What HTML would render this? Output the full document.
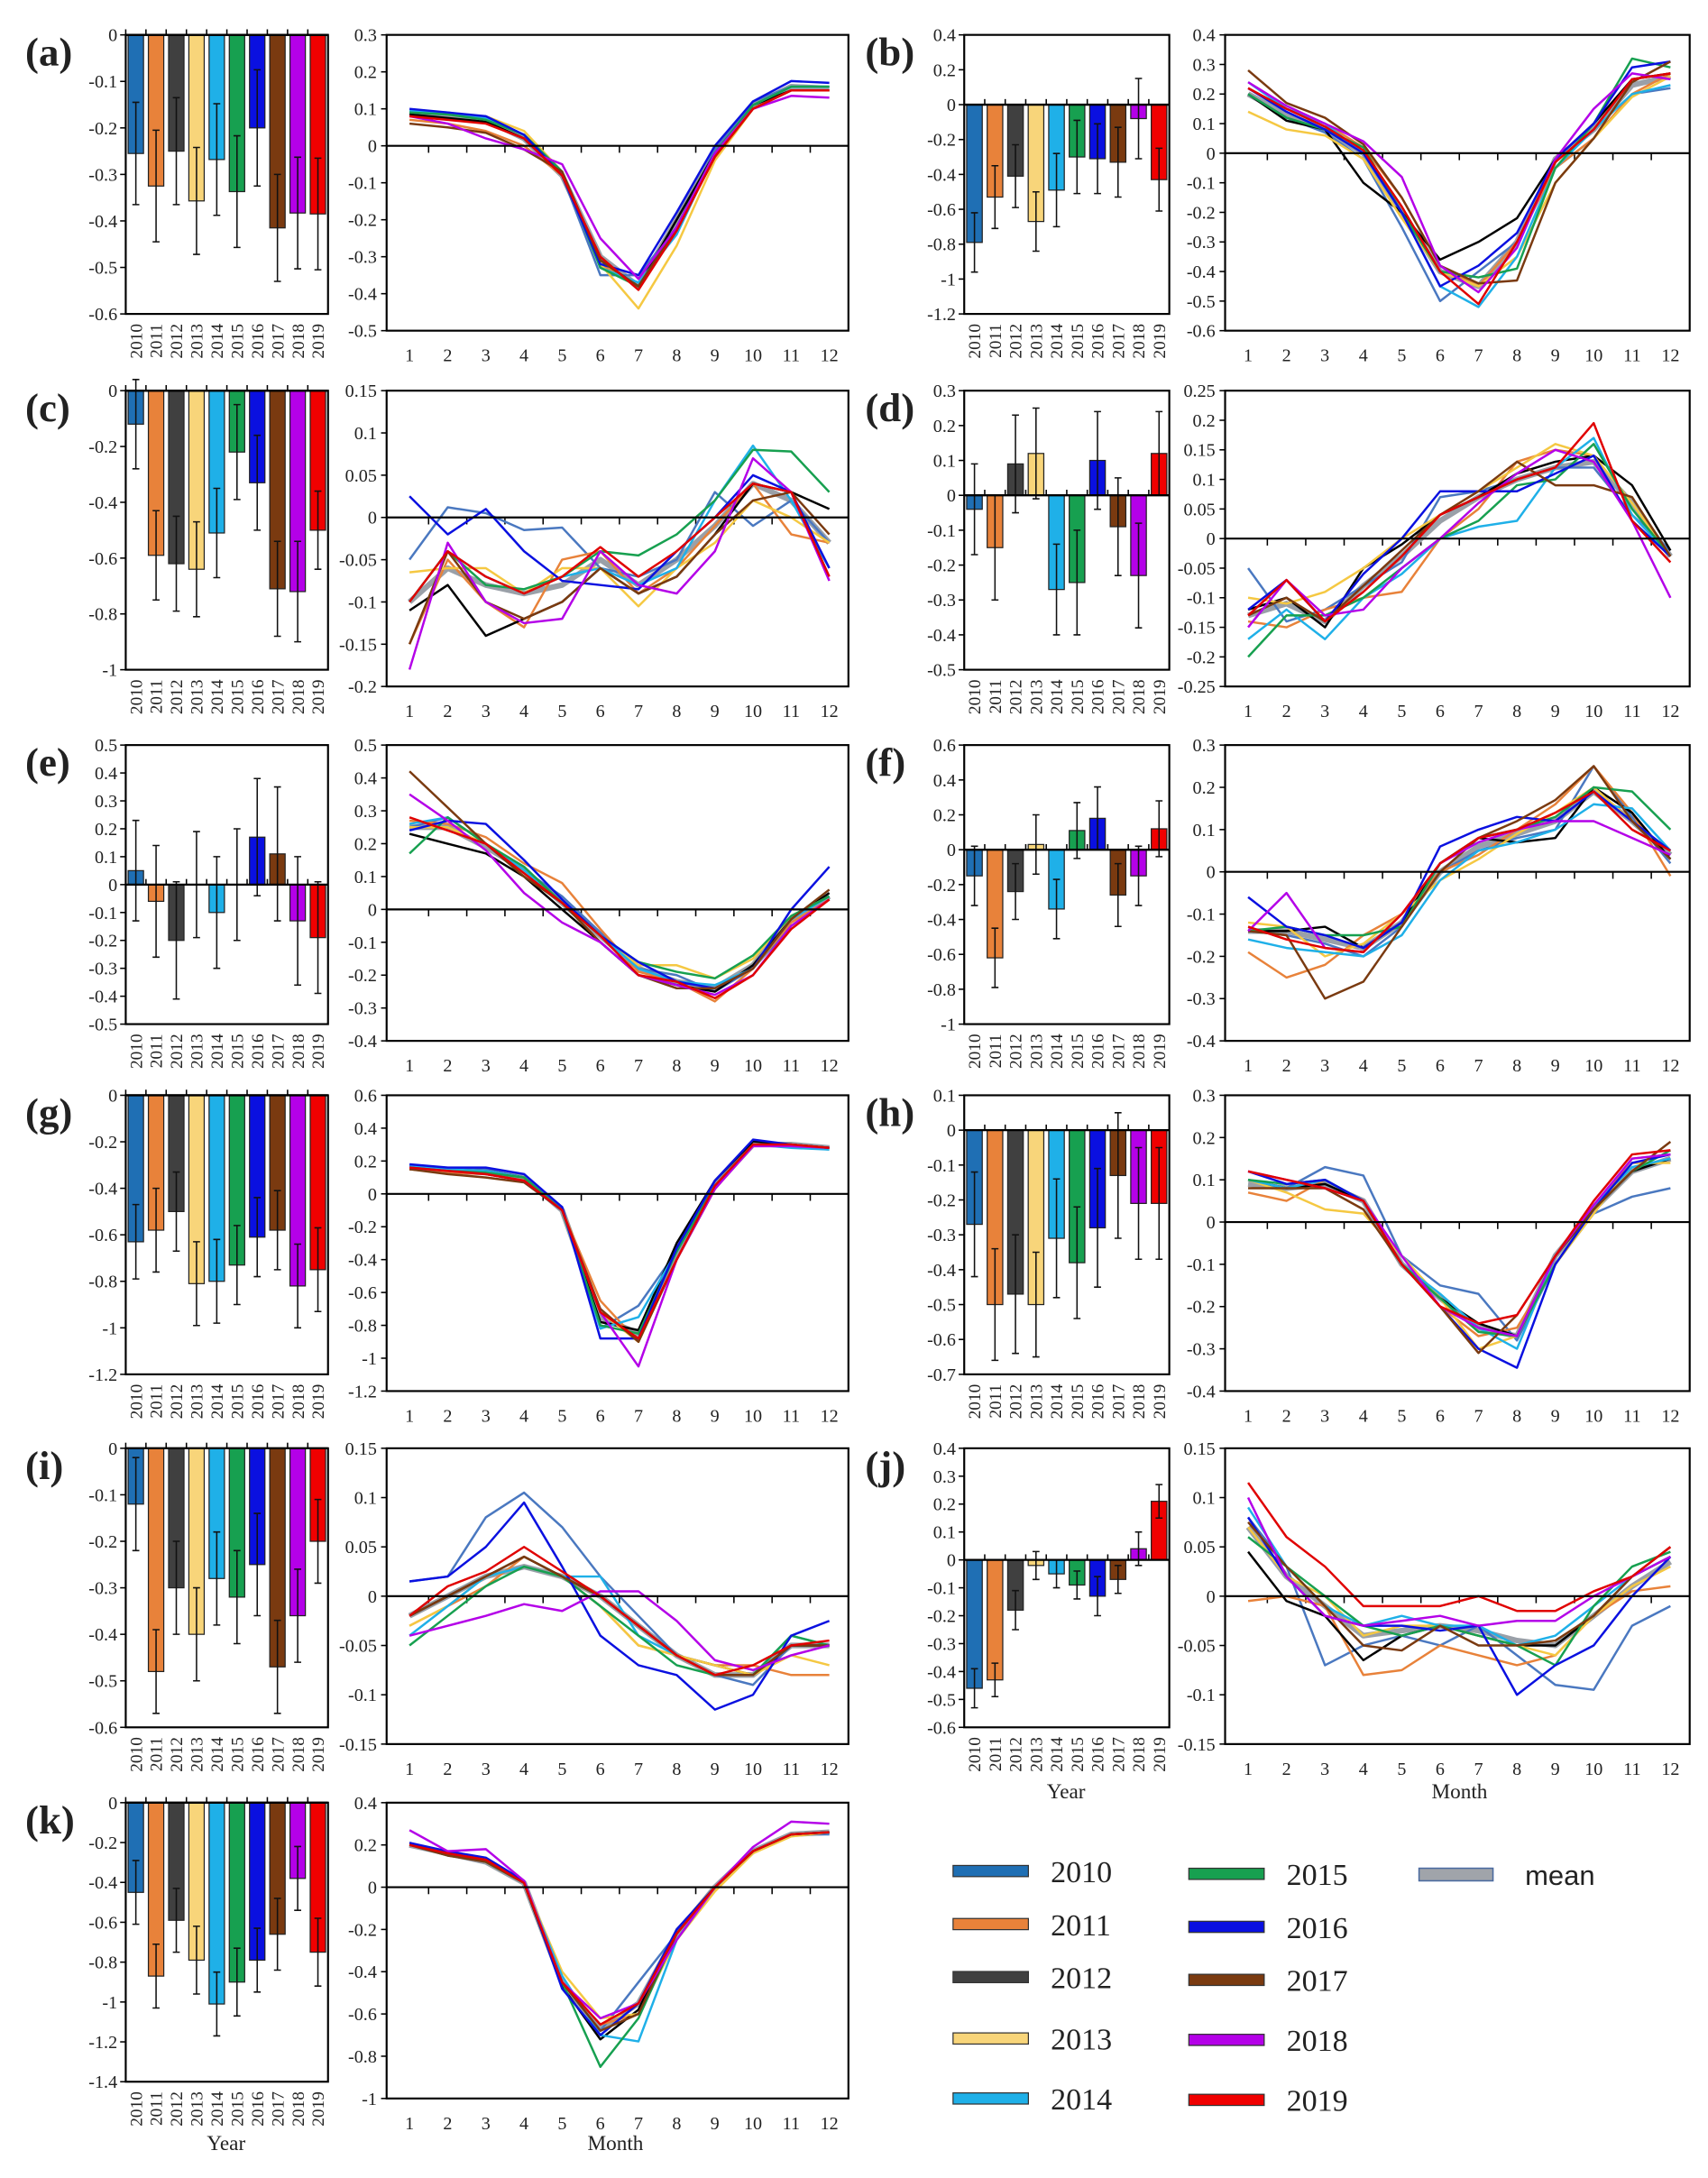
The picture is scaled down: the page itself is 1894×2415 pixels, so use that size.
<!DOCTYPE html>
<html><head><meta charset="utf-8"><style>
html,body{margin:0;padding:0;background:#fff;}
svg{display:block;}
text{font-family:"Liberation Serif",serif;fill:#222;}
</style></head><body>
<svg id="fig" xmlns="http://www.w3.org/2000/svg" width="1894" height="2415" viewBox="0 0 1224 1561"></svg>
<script>
const years=["2010","2011","2012","2013","2014","2015","2016","2017","2018","2019"];
const months=[1,2,3,4,5,6,7,8,9,10,11,12];
const panelNames=["a","b","c","d","e","f","g","h","i","j","k"];
const barColors=["#1f6fb4","#e8823a","#404040","#f8d57a","#1fb0e8","#17a050","#0a10e0","#7a3a10","#b400e8","#f00000"];
const lineColors=["#4a78c0","#e8823a","#000000","#f5c842","#1fb0e8","#17a050","#0a10e0","#7a3a10","#b400e8","#e00000"];

const barA=[-.255,-.325,-.25,-.357,-.268,-.337,-.2,-.415,-.383,-.385];
const errA=[.11,.12,.115,.115,.12,.12,.125,.115,.12,.12];
const barB=[-.79,-.53,-.41,-.67,-.49,-.3,-.31,-.33,-.08,-.43];
const errB=[.17,.18,.18,.17,.21,.21,.2,.2,.23,.18];
const barC=[-.12,-.59,-.62,-.64,-.51,-.22,-.33,-.71,-.72,-.5];
const errC=[.16,.16,.17,.17,.16,.17,.17,.17,.18,.14];
const barD=[-.04,-.15,.09,.12,-.27,-.25,.1,-.09,-.23,.12];
const errD=[.13,.15,.14,.13,.13,.15,.14,.14,.15,.12];
const barE=[.05,-.06,-.2,0,-.1,0,.17,.11,-.13,-.19];
const errE=[.18,.2,.21,.19,.2,.2,.21,.24,.23,.2];
const barF=[-.15,-.62,-.24,.03,-.34,.11,.18,-.26,-.15,.12];
const errF=[.17,.17,.16,.17,.17,.16,.18,.18,.17,.16];
const barG=[-.63,-.58,-.5,-.81,-.8,-.73,-.61,-.58,-.82,-.75];
const errG=[.16,.18,.17,.18,.18,.17,.17,.17,.18,.18];
const barH=[-.27,-.5,-.47,-.5,-.31,-.38,-.28,-.13,-.21,-.21];
const errH=[.15,.16,.17,.15,.17,.16,.17,.18,.16,.16];
const barI=[-.12,-.48,-.3,-.4,-.28,-.32,-.25,-.47,-.36,-.2];
const errI=[.1,.09,.1,.1,.1,.1,.11,.1,.1,.09];
const barJ=[-.46,-.43,-.18,-.02,-.05,-.09,-.13,-.07,.04,.21];
const errJ=[.07,.06,.07,.05,.05,.05,.07,.05,.06,.06];
const barK=[-.45,-.87,-.59,-.79,-1.01,-.9,-.79,-.66,-.38,-.75];
const errK=[.16,.16,.16,.17,.16,.17,.16,.18,.16,.17];

const meanA=[.09,.08,.07,.02,-.08,-.3,-.38,-.2,-.02,.11,.16,.155];
const linesA=[
[.09,.085,.075,.03,-.08,-.35,-.35,-.22,-.01,.12,.16,.16],
[.07,.06,.04,0,-.08,-.32,-.38,-.22,-.03,.1,.15,.15],
[.085,.075,.065,.02,-.08,-.31,-.38,-.2,-.02,.11,.15,.15],
[.095,.085,.08,.04,-.07,-.32,-.44,-.27,-.04,.1,.15,.15],
[.095,.09,.075,.03,-.07,-.33,-.37,-.24,-.02,.11,.16,.16],
[.09,.085,.07,.03,-.07,-.33,-.38,-.22,-.02,.11,.16,.16],
[.1,.09,.08,.03,-.08,-.32,-.35,-.18,0,.12,.175,.17],
[.06,.05,.035,-.01,-.07,-.31,-.38,-.22,-.03,.1,.15,.15],
[.08,.06,.02,-.01,-.05,-.25,-.36,-.22,-.02,.1,.135,.13],
[.08,.07,.06,.02,-.08,-.3,-.39,-.23,-.03,.1,.15,.15]];
const meanB=[.2,.13,.08,0,-.2,-.4,-.45,-.3,-.02,.08,.23,.26];
const linesB=[
[.2,.12,.07,-.02,-.25,-.5,-.4,-.3,-.05,.05,.2,.22],
[.22,.15,.1,.02,-.15,-.38,-.45,-.3,-.05,.05,.2,.27],
[.2,.11,.08,-.1,-.2,-.36,-.3,-.22,-.02,.1,.25,.27],
[.14,.08,.06,-.02,-.22,-.4,-.45,-.35,-.1,.05,.19,.26],
[.24,.15,.1,0,-.2,-.45,-.52,-.35,-.05,.08,.2,.23],
[.2,.12,.08,.02,-.2,-.4,-.42,-.39,-.05,.1,.32,.29],
[.22,.14,.08,0,-.2,-.45,-.38,-.27,-.02,.1,.29,.31],
[.28,.17,.12,.03,-.15,-.38,-.44,-.43,-.1,.05,.24,.31],
[.24,.16,.1,.04,-.08,-.38,-.47,-.32,-.02,.15,.27,.25],
[.22,.15,.09,.01,-.18,-.4,-.51,-.3,-.03,.08,.25,.27]];
const meanC=[-.1,-.06,-.08,-.09,-.08,-.05,-.08,-.05,-.01,.04,.02,-.03];
const linesC=[
[-.05,.012,.005,-.015,-.012,-.06,-.07,-.05,.03,-.01,.02,-.03],
[-.15,-.05,-.1,-.13,-.05,-.04,-.09,-.06,-.01,.04,-.02,-.03],
[-.11,-.08,-.14,-.12,-.1,-.06,-.09,-.07,-.02,.04,.03,.01],
[-.065,-.06,-.06,-.09,-.06,-.06,-.105,-.06,-.03,.02,0,-.03],
[-.1,-.04,-.07,-.09,-.07,-.06,-.08,-.06,.02,.085,.02,-.06],
[-.1,-.04,-.08,-.085,-.07,-.04,-.045,-.02,.02,.08,.078,.03],
[.025,-.02,.01,-.04,-.075,-.08,-.085,-.04,0,.05,.03,-.06],
[-.15,-.04,-.1,-.12,-.1,-.06,-.09,-.07,-.02,.02,.03,-.02],
[-.18,-.03,-.1,-.125,-.12,-.04,-.08,-.09,-.04,.07,.03,-.075],
[-.1,-.04,-.07,-.09,-.07,-.035,-.07,-.04,0,.04,.03,-.07]];
const meanD=[-.13,-.11,-.14,-.08,-.03,.03,.07,.1,.12,.13,.06,-.03];
const linesD=[
[-.05,-.14,-.12,-.08,-.04,.07,.08,.1,.12,.12,.04,-.02],
[-.14,-.15,-.12,-.1,-.09,0,.05,.13,.15,.14,.03,-.03],
[-.12,-.1,-.15,-.05,-.01,.04,.07,.11,.13,.14,.09,-.02],
[-.1,-.11,-.09,-.05,0,.04,.08,.12,.16,.14,.06,-.03],
[-.17,-.12,-.17,-.1,-.06,0,.02,.03,.12,.17,.04,-.03],
[-.2,-.13,-.13,-.1,-.05,0,.03,.09,.1,.16,.05,-.03],
[-.12,-.07,-.14,-.06,0,.08,.08,.08,.11,.14,.03,-.03],
[-.13,-.1,-.14,-.08,-.02,.04,.08,.13,.09,.09,.07,-.03],
[-.15,-.07,-.13,-.12,-.05,0,.06,.11,.15,.13,.03,-.1],
[-.13,-.07,-.14,-.09,-.03,.04,.07,.1,.12,.195,.03,-.04]];
const meanE=[.25,.25,.19,.12,.02,-.08,-.18,-.22,-.24,-.17,-.03,.04];
const linesE=[
[.25,.28,.2,.12,.04,-.07,-.18,-.2,-.25,-.18,-.05,.03],
[.27,.26,.22,.14,.08,-.06,-.19,-.22,-.28,-.18,-.04,.03],
[.23,.2,.17,.1,0,-.1,-.2,-.23,-.25,-.17,-.03,.05],
[.25,.25,.2,.12,.02,-.08,-.17,-.17,-.21,-.15,-.02,.04],
[.26,.28,.2,.12,.02,-.08,-.18,-.22,-.23,-.18,-.03,.04],
[.17,.28,.2,.13,.02,-.08,-.16,-.19,-.21,-.14,-.02,.04],
[.24,.27,.26,.15,.03,-.08,-.16,-.22,-.24,-.18,0,.13],
[.42,.31,.2,.1,.02,-.1,-.2,-.24,-.24,-.18,-.03,.06],
[.35,.27,.18,.05,-.04,-.1,-.2,-.23,-.26,-.2,-.05,.03],
[.28,.24,.2,.11,.02,-.08,-.2,-.22,-.27,-.2,-.06,.03]];
const meanF=[-.14,-.14,-.16,-.18,-.12,0,.06,.09,.12,.19,.12,.04];
const linesF=[
[-.14,-.15,-.17,-.2,-.13,0,.05,.08,.1,.25,.13,.02],
[-.19,-.25,-.22,-.15,-.1,0,.04,.1,.16,.25,.14,-.01],
[-.14,-.14,-.13,-.18,-.12,.02,.08,.07,.08,.2,.14,.03],
[-.12,-.13,-.2,-.17,-.1,-.02,.03,.09,.14,.2,.12,.05],
[-.16,-.18,-.19,-.2,-.15,-.02,.05,.07,.1,.16,.15,.05],
[-.14,-.13,-.15,-.15,-.13,.02,.08,.1,.13,.2,.19,.1],
[-.06,-.13,-.15,-.18,-.12,.06,.1,.13,.12,.19,.12,.05],
[-.14,-.15,-.3,-.26,-.13,0,.08,.12,.17,.25,.12,.03],
[-.14,-.05,-.18,-.19,-.1,.02,.07,.1,.12,.12,.08,.04],
[-.13,-.16,-.18,-.19,-.1,.02,.08,.1,.14,.19,.1,.05]];
const meanG=[.16,.14,.13,.1,-.1,-.75,-.85,-.35,.05,.3,.3,.28];
const linesG=[
[.17,.15,.15,.1,-.08,-.82,-.68,-.35,.05,.3,.3,.28],
[.15,.13,.12,.08,-.1,-.65,-.9,-.4,.03,.3,.3,.28],
[.17,.15,.14,.1,-.1,-.78,-.83,-.3,.08,.32,.3,.28],
[.16,.14,.13,.1,-.1,-.72,-.9,-.4,.03,.29,.3,.28],
[.17,.15,.14,.1,-.1,-.82,-.75,-.35,.05,.3,.28,.27],
[.16,.14,.13,.1,-.1,-.8,-.85,-.35,.05,.3,.3,.28],
[.18,.16,.16,.12,-.08,-.88,-.88,-.33,.08,.33,.3,.28],
[.15,.12,.1,.07,-.1,-.7,-.9,-.4,.03,.3,.3,.28],
[.16,.14,.12,.08,-.1,-.72,-1.05,-.4,.03,.29,.29,.28],
[.16,.14,.12,.08,-.1,-.72,-.88,-.4,.05,.3,.3,.28]];
const meanH=[.09,.08,.09,.05,-.1,-.18,-.25,-.27,-.08,.03,.12,.15];
const linesH=[
[.1,.08,.13,.11,-.08,-.15,-.17,-.28,-.1,.02,.06,.08],
[.07,.05,.1,.05,-.1,-.2,-.27,-.25,-.1,.03,.15,.16],
[.1,.08,.09,.05,-.1,-.18,-.24,-.27,-.08,.03,.12,.15],
[.1,.07,.03,.02,-.08,-.18,-.3,-.27,-.1,.02,.14,.14],
[.1,.08,.1,.05,-.1,-.17,-.25,-.3,-.08,.04,.13,.15],
[.1,.09,.1,.05,-.1,-.18,-.26,-.27,-.1,.03,.12,.17],
[.12,.09,.1,.05,-.1,-.2,-.3,-.345,-.1,.03,.14,.16],
[.08,.08,.08,.03,-.1,-.2,-.31,-.22,-.08,.03,.12,.19],
[.12,.1,.08,.05,-.08,-.2,-.25,-.27,-.08,.04,.15,.16],
[.12,.1,.08,.05,-.1,-.2,-.24,-.22,-.08,.05,.16,.17]];
const meanI=[-.02,0,.02,.03,.02,0,-.03,-.06,-.08,-.08,-.05,-.05];
const linesI=[
[.015,.02,.08,.105,.07,.02,-.02,-.06,-.08,-.09,-.05,-.05],
[-.03,-.01,.01,.04,.02,-.01,-.05,-.06,-.07,-.07,-.08,-.08],
[-.02,0,.02,.04,.02,0,-.03,-.06,-.07,-.08,-.05,-.05],
[-.03,-.01,.02,.03,.02,-.01,-.05,-.06,-.07,-.08,-.06,-.07],
[-.04,-.01,.02,.03,.02,.02,-.04,-.06,-.08,-.08,-.04,-.05],
[-.05,-.02,.01,.03,.02,-.01,-.04,-.07,-.08,-.08,-.04,-.05],
[.015,.02,.05,.095,.03,-.04,-.07,-.08,-.115,-.1,-.04,-.025],
[-.02,0,.02,.04,.02,0,-.03,-.06,-.08,-.08,-.05,-.05],
[-.04,-.03,-.02,-.008,-.015,.005,.005,-.025,-.065,-.075,-.06,-.05],
[-.02,.01,.025,.05,.025,0,-.03,-.06,-.08,-.07,-.05,-.045]];
const meanJ=[.07,.02,-.01,-.04,-.035,-.03,-.035,-.045,-.05,-.02,.01,.035];
const linesJ=[
[.08,.03,-.07,-.05,-.04,-.05,-.03,-.06,-.09,-.095,-.03,-.01],
[-.005,0,-.01,-.08,-.075,-.05,-.06,-.07,-.06,-.02,.005,.01],
[.045,-.005,-.02,-.065,-.04,-.03,-.04,-.05,-.05,-.02,.02,.04],
[.07,.02,0,-.04,-.03,-.03,-.04,-.05,-.06,-.02,.01,.03],
[.09,.03,-.01,-.03,-.02,-.03,-.03,-.05,-.04,-.01,.02,.04],
[.06,.03,0,-.03,-.04,-.03,-.04,-.05,-.07,-.01,.03,.045],
[.08,.02,-.02,-.03,-.03,-.035,-.03,-.1,-.07,-.05,0,.04],
[.075,.03,-.01,-.05,-.055,-.03,-.05,-.05,-.045,-.02,.02,.05],
[.1,.02,-.02,-.03,-.025,-.02,-.03,-.025,-.025,0,.02,.04],
[.115,.06,.03,-.01,-.01,-.01,0,-.015,-.015,.005,.02,.05]];
const meanK=[.2,.16,.12,.02,-.45,-.67,-.55,-.22,0,.17,.25,.26];
const linesK=[
[.2,.15,.12,.02,-.45,-.68,-.45,-.22,0,.17,.25,.25],
[.2,.16,.12,.02,-.45,-.65,-.6,-.22,0,.17,.25,.26],
[.21,.16,.12,.02,-.47,-.72,-.58,-.2,0,.17,.25,.26],
[.2,.16,.12,.02,-.4,-.62,-.6,-.25,-.02,.16,.24,.26],
[.2,.16,.12,.02,-.42,-.7,-.73,-.25,0,.17,.25,.26],
[.2,.16,.12,.02,-.45,-.85,-.62,-.22,0,.17,.25,.26],
[.21,.17,.14,.03,-.48,-.7,-.55,-.2,0,.17,.25,.26],
[.2,.15,.12,.02,-.45,-.68,-.6,-.22,0,.17,.25,.26],
[.27,.17,.18,.03,-.45,-.62,-.55,-.25,0,.19,.31,.3],
[.2,.16,.13,.02,-.45,-.65,-.55,-.22,0,.17,.25,.26]];

// axis ranges [max,min,step]
const barAxes=[[0,-.6,.1],[.4,-1.2,.2],[0,-1,.2],[.3,-.5,.1],[.5,-.5,.1],[.6,-1,.2],[0,-1.2,.2],[.1,-.7,.1],[0,-.6,.1],[.4,-.6,.1],[0,-1.4,.2]];
const lineAxes=[[.3,-.5,.1],[.4,-.6,.1],[.15,-.2,.05],[.25,-.25,.05],[.5,-.4,.1],[.3,-.4,.1],[.6,-1.2,.2],[.3,-.4,.1],[.15,-.15,.05],[.15,-.15,.05],[.4,-1,.2]];
const barVals=[barA,barB,barC,barD,barE,barF,barG,barH,barI,barJ,barK];
const barErrs=[errA,errB,errC,errD,errE,errF,errG,errH,errI,errJ,errK];
const meanVals=[meanA,meanB,meanC,meanD,meanE,meanF,meanG,meanH,meanI,meanJ,meanK];
const lineVals=[linesA,linesB,linesC,linesD,linesE,linesF,linesG,linesH,linesI,linesJ,linesK];

const NS="http://www.w3.org/2000/svg";
const svg=document.getElementById('fig');
function mk(tag,attrs,parent,txt){const e=document.createElementNS(NS,tag);for(const k in attrs)e.setAttribute(k,attrs[k]);if(txt!==undefined)e.textContent=txt;(parent||svg).appendChild(e);return e;}
function fmt(v){let s=(Math.round(v*100)/100).toString();if(Math.abs(v)<1e-9)s="0";return s.replace("0.",".").replace("-.", "-0.").replace(/^\./,"0.");}
const rowTops=[25,280,534,785,1038,1292];
const cols=[{bx0:90,bx1:235,lx0:277,lx1:608,lab:18},{bx0:691,bx1:838,lx0:878,lx1:1211,lab:620}];

panelNames.forEach((p,pi)=>{
  const col=cols[pi%2], top=rowTops[Math.floor(pi/2)];
  const g=mk('g',{});
  
  
  const lab=mk('text',{x:col.lab,y:top+22,'font-size':29,'font-weight':'bold'},g,'('+p+')');
  
  
  // ----- bar chart
  const [bmax,bmin,bstep]=barAxes[pi];
  const bTop=top, bBot=top+200;
  const by=v=>bTop+(bmax-v)/(bmax-bmin)*(bBot-bTop);
  const bg=mk('g',{},g);
  
  
  const nT=Math.round((bmax-bmin)/bstep);
  for(let k=0;k<=nT;k++){const v=bmax-k*bstep;const yy=by(v);
    mk('line',{x1:col.bx0-4,x2:col.bx0,y1:yy,y2:yy,stroke:'#000','stroke-width':1},bg);
    const t=mk('text',{x:col.bx0-6,y:yy+4.5,'font-size':13,'text-anchor':'end'},bg,fmt(v));
    
    
  }
  const slot=(col.bx1-col.bx0)/10, bw=slot*0.76, y0=by(0);
  barVals[pi].forEach((v,i)=>{
    const cx=col.bx0+slot*(i+0.5);
    const r=mk('rect',{x:cx-bw/2,y:Math.min(y0,by(v)),width:bw,height:Math.abs(by(v)-y0),fill:barColors[i],stroke:'#222','stroke-width':0.8},bg);
    
    
    const e=barErrs[pi][i];
    const eb=mk('path',{d:`M${cx},${by(v-e)}V${by(v+e)}M${cx-2.5},${by(v-e)}h5M${cx-2.5},${by(v+e)}h5`,stroke:'#111','stroke-width':1,fill:'none'},bg);
    
    
    const yt=mk('text',{x:0,y:0,'font-size':12.5,'text-anchor':'end',transform:`translate(${cx+4.3},${bBot+7}) rotate(-90)`},bg,years[i]);
    
    
    mk('line',{x1:col.bx0+slot*i,x2:col.bx0+slot*i,y1:y0,y2:y0-4,stroke:'#000','stroke-width':1},bg);
  });
  mk('line',{x1:col.bx0,x2:col.bx1,y1:y0,y2:y0,stroke:'#000','stroke-width':1.5},bg);
  const bf=mk('rect',{x:col.bx0,y:bTop,width:col.bx1-col.bx0,height:bBot-bTop,fill:'none',stroke:'#000','stroke-width':1.4},bg);
  
  
  // ----- line chart
  const [lmax,lmin,lstep]=lineAxes[pi];
  const lTop=top, lBot=top+212;
  const ly=v=>lTop+(lmax-v)/(lmax-lmin)*(lBot-lTop);
  const mx=m=>col.lx0+(col.lx1-col.lx0)*(m-0.4)/12.1;
  const lg=mk('g',{},g);
  
  
  const nL=Math.round((lmax-lmin)/lstep);
  for(let k=0;k<=nL;k++){const v=lmax-k*lstep;const yy=ly(v);
    mk('line',{x1:col.lx0-4,x2:col.lx0,y1:yy,y2:yy,stroke:'#000','stroke-width':1},lg);
    const t=mk('text',{x:col.lx0-7,y:yy+4.5,'font-size':13,'text-anchor':'end'},lg,fmt(v));
    
    
  }
  const z=ly(0);
  months.forEach(m=>{
    const t=mk('text',{x:mx(m),y:lBot+22,'font-size':13,'text-anchor':'middle'},lg,String(m));
    
    
    if(m<12) mk('line',{x1:mx(m+0.5),x2:mx(m+0.5),y1:z,y2:z+5,stroke:'#000','stroke-width':1},lg);
  });
  const toPts=arr=>arr.map((v,i)=>mx(months[i]).toFixed(1)+','+ly(v).toFixed(1)).join(' ');
  const ml=mk('polyline',{points:toPts(meanVals[pi]),fill:'none',stroke:'#9aa0a8','stroke-width':4,'stroke-linejoin':'round'},lg);
  
  
  lineVals[pi].forEach((arr,i)=>{
    const pl=mk('polyline',{points:toPts(arr),fill:'none',stroke:lineColors[i],'stroke-width':1.6,'stroke-linejoin':'round'},lg);
    
    
  });
  mk('line',{x1:col.lx0,x2:col.lx1,y1:z,y2:z,stroke:'#000','stroke-width':1.4},lg);
  const lf=mk('rect',{x:col.lx0,y:lTop,width:col.lx1-col.lx0,height:lBot-lTop,fill:'none',stroke:'#000','stroke-width':1.4},lg);
  
  
});
// axis titles
[["Year",162,1541,'x-axis-title-year-k'],["Month",441,1541,'x-axis-title-month-k'],["Year",764,1289,'x-axis-title-year-j'],["Month",1046,1289,'x-axis-title-month-j']].forEach(a=>{
  const t=mk('text',{x:a[1],y:a[2],'font-size':15,'text-anchor':'middle'},svg,a[0]);
  
  
});
// legend
const legX=[683,852];
const legY=[[1341,1379,1417,1461,1504],[1343,1381,1419,1462,1505]];
const lgd=mk('g',{});


years.forEach((y,i)=>{
  const c=Math.floor(i/5), r=i%5, x=legX[c], yy=legY[c][r];
  const s=mk('rect',{x:x,y:yy-4,width:54,height:8,fill:barColors[i],stroke:'#333','stroke-width':0.8},lgd);
  
  
  const t=mk('text',{x:x+70,y:yy+8,'font-size':22},lgd,y);
  
  
});
const ms=mk('rect',{x:1017,y:1339,width:53,height:9,fill:'#a0a4aa',stroke:'#4a6aa0','stroke-width':1},lgd);


const mt=mk('text',{x:1093,y:1351,'font-size':20,style:'font-family:"Liberation Sans",sans-serif'},lgd,'mean');


</script>
</body></html>
